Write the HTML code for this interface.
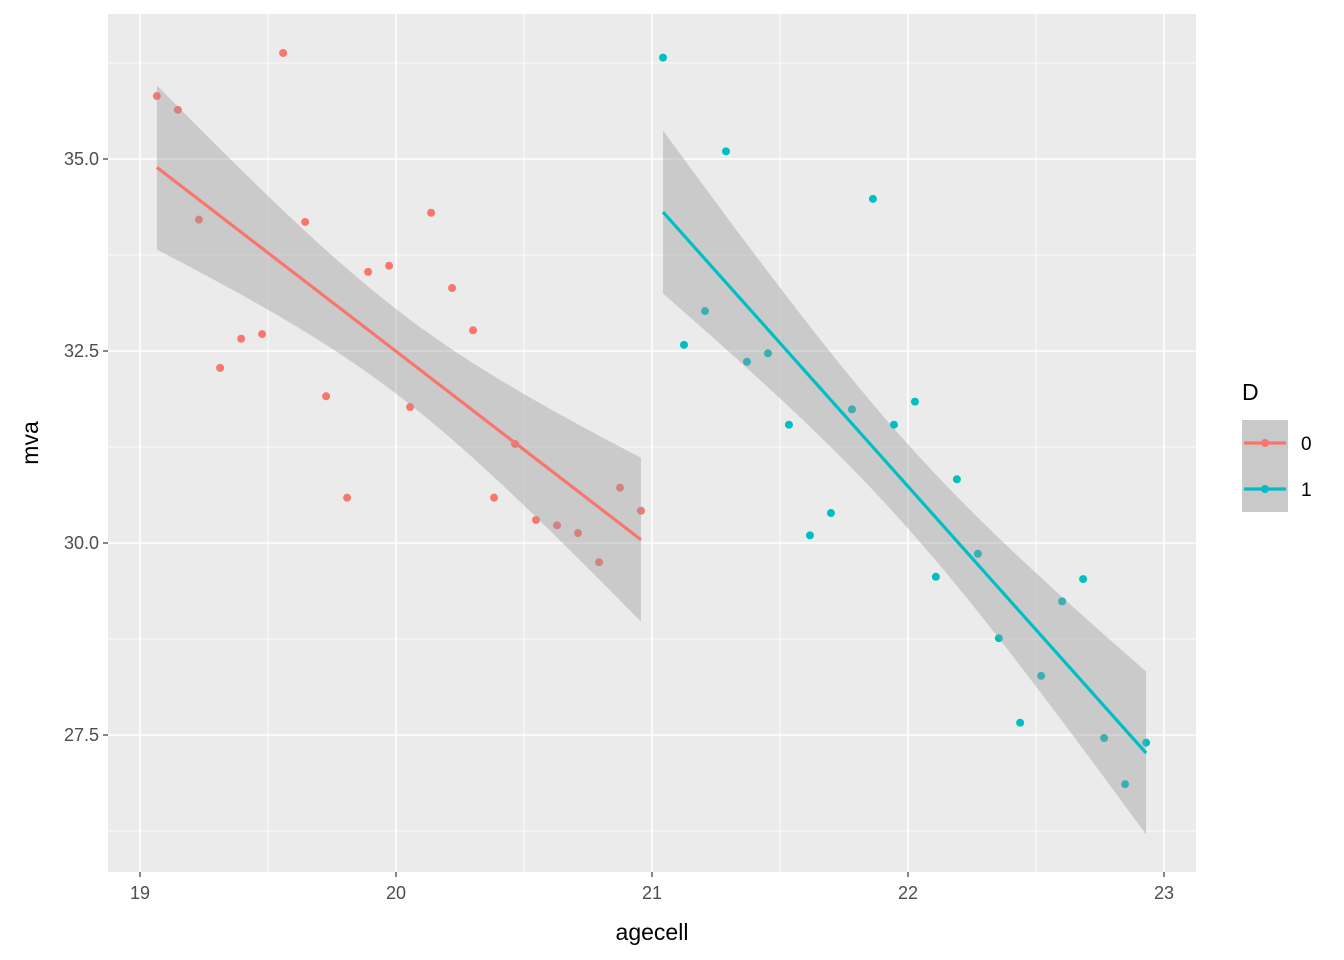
<!DOCTYPE html>
<html><head><meta charset="utf-8"><style>
body{margin:0;background:#fff;}
svg{display:block;font-family:"Liberation Sans",Arial,sans-serif;}
</style></head><body>
<svg id="c" width="1344" height="960"></svg>
<script>
const x0=[19.066,19.148,19.230,19.313,19.395,19.477,19.559,19.645,19.727,19.809,19.891,19.973,20.055,20.137,20.219,20.301,20.383,20.465,20.547,20.629,20.711,20.793,20.875,20.957];
const y0=[35.82,35.64,34.21,32.28,32.66,32.72,36.38,34.18,31.91,30.59,33.53,33.61,31.77,34.30,33.32,32.77,30.59,31.29,30.30,30.23,30.13,29.75,30.72,30.42];
const x1=[21.043,21.125,21.207,21.289,21.371,21.453,21.535,21.617,21.699,21.781,21.863,21.945,22.027,22.109,22.191,22.273,22.355,22.438,22.520,22.602,22.684,22.766,22.848,22.930];
const y1=[36.32,32.58,33.02,35.10,32.36,32.47,31.54,30.10,30.39,31.74,34.48,31.54,31.84,29.56,30.83,29.86,28.76,27.66,28.27,29.24,29.53,27.46,26.86,27.40];
const xTicks=[19,20,21,22,23];
const yTicks=[27.5,30.0,32.5,35.0];
const groups=["0","1"];
const colors=["#F8766D","#00BFC4"];

const NS="http://www.w3.org/2000/svg";
const svg=document.getElementById('c');
const L=108,R=1196,T=14,B=872;
const xmin=18.875,xmax=23.125,ymin=25.716,ymax=36.888;
const sx=v=>L+(v-xmin)/(xmax-xmin)*(R-L);
const sy=v=>B-(v-ymin)/(ymax-ymin)*(B-T);
function el(t,a,p){const e=document.createElementNS(NS,t);for(const k in a)e.setAttribute(k,a[k]);(p||svg).appendChild(e);return e;}

const bg=el('rect',{x:L,y:T,width:R-L,height:B-T,fill:'#EBEBEB'});


for(let i=0;i<xTicks.length-1;i++){const v=(xTicks[i]+xTicks[i+1])/2;el('line',{x1:sx(v),x2:sx(v),y1:T,y2:B,stroke:'#fff','stroke-width':0.8});}
const ym=[yTicks[0]-1.25].concat(yTicks.map(v=>v+1.25));
ym.forEach(v=>{if(v>ymin&&v<ymax)el('line',{x1:L,x2:R,y1:sy(v),y2:sy(v),stroke:'#fff','stroke-width':0.8});});
xTicks.forEach(v=>{const g=el('line',{x1:sx(v),x2:sx(v),y1:T,y2:B,stroke:'#fff','stroke-width':1.6});

el('line',{x1:sx(v),x2:sx(v),y1:B,y2:B+5,stroke:'#333','stroke-width':1.2});
const t=el('text',{x:sx(v),y:B+27,'text-anchor':'middle','font-size':18,fill:'#4D4D4D'});t.textContent=v;
});
yTicks.forEach(v=>{const g=el('line',{x1:L,x2:R,y1:sy(v),y2:sy(v),stroke:'#fff','stroke-width':1.6});

el('line',{x1:L-5,x2:L,y1:sy(v),y2:sy(v),stroke:'#333','stroke-width':1.2});
const t=el('text',{x:L-9,y:sy(v)+6,'text-anchor':'end','font-size':18,fill:'#4D4D4D'});t.textContent=v.toFixed(1);
});

function fit(xs,ys,col,idx){
  const n=xs.length,mx=xs.reduce((a,b)=>a+b)/n,my=ys.reduce((a,b)=>a+b)/n;
  let sxx=0,sxy=0;xs.forEach((x,i)=>{sxx+=(x-mx)**2;sxy+=(x-mx)*(ys[i]-my);});
  const b=sxy/sxx,a=my-b*mx;let sse=0;xs.forEach((x,i)=>{sse+=(ys[i]-a-b*x)**2;});
  const s=Math.sqrt(sse/(n-2)),t=2.074;
  const lo=Math.min(...xs),hi=Math.max(...xs);const up=[],dn=[];
  for(let k=0;k<=80;k++){const x=lo+(hi-lo)*k/80,f=a+b*x,se=s*Math.sqrt(1/n+(x-mx)**2/sxx);
    up.push(sx(x)+','+sy(f+t*se));dn.push(sx(x)+','+sy(f-t*se));}
  xs.forEach((x,i)=>{const c=el('circle',{cx:sx(x),cy:sy(ys[i]),r:4,fill:col});
    });
  const band=el('polygon',{points:up.concat(dn.reverse()).join(' '),fill:'#999','fill-opacity':0.4});
  
  const ln=el('line',{x1:sx(lo),y1:sy(a+b*lo),x2:sx(hi),y2:sy(a+b*hi),stroke:col,'stroke-width':3.2});
  
}
fit(x0,y0,colors[0],0);fit(x1,y1,colors[1],1);

let t=el('text',{x:(L+R)/2,y:940,'text-anchor':'middle','font-size':23,fill:'#000'});t.textContent='agecell';

t=el('text',{x:0,y:0,'text-anchor':'middle','font-size':23,fill:'#000',transform:`translate(38,${(T+B)/2}) rotate(-90)`});t.textContent='mva';

t=el('text',{x:1242,y:400,'font-size':23,fill:'#000'});t.textContent='D';

groups.forEach((g,i)=>{const y=420+i*46;
  const r=el('rect',{x:1242,y:y,width:46,height:46,fill:'#C9C9C9'});
  
  el('line',{x1:1244,x2:1286,y1:y+23,y2:y+23,stroke:colors[i],'stroke-width':3.2});
  el('circle',{cx:1265,cy:y+23,r:4,fill:colors[i]});
  const tx=el('text',{x:1301,y:y+30,'font-size':19,fill:'#000'});tx.textContent=g;
  });
</script>
</body></html>
